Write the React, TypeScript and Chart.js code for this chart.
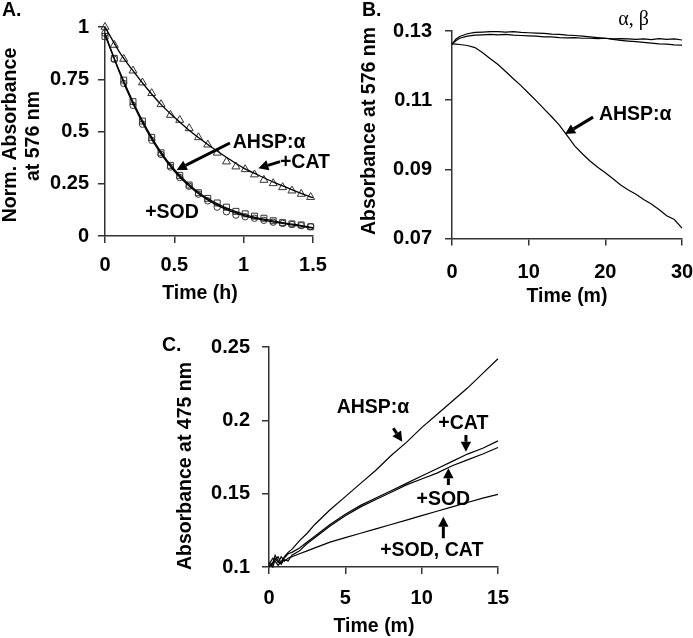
import React, { useEffect, useRef } from 'react';
import { Chart, registerables } from 'chart.js';

Chart.register(...registerables);

const PAGE_W = 693;
const PAGE_H = 638;
const SANS = "'Liberation Sans', Arial, Helvetica, sans-serif";
const SERIF = "'Liberation Serif', 'Times New Roman', serif";
const FS = 19.5;
const TICK_FS = 20;
const BOLD = `bold ${FS}px ${SANS}`;
const AXIS_COLOR = '#333';

// ---------------- Panel A ----------------
const A_TIME = [0, 0.067, 0.135, 0.202, 0.27, 0.337, 0.404, 0.472, 0.539, 0.607, 0.674, 0.741, 0.809, 0.876, 0.944, 1.011, 1.078, 1.146, 1.213, 1.281, 1.348, 1.415, 1.483];
const A_CAT = [1.0, 0.914, 0.847, 0.791, 0.734, 0.683, 0.63, 0.579, 0.555, 0.515, 0.472, 0.437, 0.398, 0.356, 0.332, 0.319, 0.294, 0.268, 0.252, 0.233, 0.217, 0.201, 0.186];
const A_AHSP = [0.955, 0.85, 0.746, 0.643, 0.55, 0.472, 0.398, 0.338, 0.29, 0.244, 0.207, 0.18, 0.158, 0.138, 0.118, 0.106, 0.095, 0.085, 0.073, 0.064, 0.058, 0.053, 0.044];
const A_SOD = [0.97, 0.845, 0.73, 0.625, 0.535, 0.458, 0.39, 0.33, 0.28, 0.238, 0.2, 0.168, 0.138, 0.116, 0.1, 0.092, 0.085, 0.075, 0.066, 0.06, 0.055, 0.05, 0.045];
const A_FIT_TIME = [0, 0.1, 0.2, 0.3, 0.4, 0.5, 0.6, 0.7, 0.8, 0.9, 1.0, 1.1, 1.2, 1.3, 1.4, 1.5];
const A_FIT_CAT = [1.0, 0.885, 0.792, 0.708, 0.632, 0.568, 0.51, 0.458, 0.41, 0.366, 0.325, 0.293, 0.262, 0.235, 0.208, 0.183];
const A_FIT_AHSP = [0.96, 0.795, 0.645, 0.515, 0.405, 0.318, 0.25, 0.196, 0.157, 0.127, 0.104, 0.087, 0.074, 0.062, 0.052, 0.04];
const A_FIT_SOD = [0.97, 0.79, 0.635, 0.505, 0.396, 0.31, 0.243, 0.19, 0.15, 0.12, 0.098, 0.082, 0.069, 0.058, 0.048, 0.038];
const A_X_TICKS = [0, 0.5, 1, 1.5];
const A_Y_TICKS = [0, 0.25, 0.5, 0.75, 1];

// ---------------- Panel B ----------------
const B_TIME = [0, 0.5, 1, 2, 3, 4, 5, 6, 7, 8, 9, 10, 11, 12, 13, 14, 15, 16, 17, 18, 19, 20, 21, 22, 23, 24, 25, 26, 27, 28, 29, 30];
const B_ALPHA = [0.1262, 0.1276, 0.1284, 0.1292, 0.1296, 0.1297, 0.1298, 0.1298, 0.1297, 0.1298, 0.1296, 0.1295, 0.1294, 0.1293, 0.1291, 0.129, 0.1288, 0.1287, 0.1285, 0.1283, 0.1281, 0.1279, 0.1276, 0.1273, 0.1271, 0.1269, 0.1267, 0.1265, 0.1263, 0.1262, 0.126, 0.1259];
const B_BETA = [0.1262, 0.1272, 0.1279, 0.1285, 0.1288, 0.1289, 0.129, 0.1289, 0.129, 0.1288, 0.1287, 0.1286, 0.1285, 0.1283, 0.1283, 0.1281, 0.128, 0.1281, 0.1279, 0.1279, 0.1278, 0.1279, 0.1277, 0.1278, 0.1277, 0.1276, 0.1277, 0.1275, 0.1278, 0.1276, 0.1277, 0.1274];
const B_AHSP = [0.1263, 0.1262, 0.1261, 0.1258, 0.1252, 0.1237, 0.122, 0.1203, 0.1183, 0.1162, 0.1142, 0.112, 0.1098, 0.1075, 0.1052, 0.1028, 0.0998, 0.0968, 0.0945, 0.0924, 0.0906, 0.089, 0.0873, 0.0855, 0.084, 0.0828, 0.0813, 0.08, 0.0784, 0.0766, 0.0755, 0.073];
const B_X_TICKS = [0, 10, 20, 30];
const B_Y_TICKS = [0.07, 0.09, 0.11, 0.13];

// ---------------- Panel C ----------------
const C_TIME = [0, 0.25, 0.4, 0.6, 0.8, 1, 1.25, 1.5, 2, 2.5, 3, 4, 5, 6, 7, 8, 9, 10, 11, 12, 13, 14, 15];
const C_AHSP = [0.101, 0.103, 0.108, 0.104, 0.102, 0.107, 0.11, 0.112, 0.118, 0.123, 0.129, 0.139, 0.148, 0.157, 0.166, 0.176, 0.185, 0.195, 0.204, 0.213, 0.222, 0.232, 0.242];
const C_CAT = [0.102, 0.106, 0.104, 0.101, 0.104, 0.106, 0.109, 0.11, 0.113, 0.117, 0.121, 0.129, 0.136, 0.142, 0.147, 0.152, 0.157, 0.162, 0.167, 0.172, 0.177, 0.181, 0.186];
const C_SOD = [0.103, 0.1, 0.105, 0.107, 0.102, 0.105, 0.104, 0.108, 0.111, 0.116, 0.12, 0.128, 0.135, 0.141, 0.146, 0.151, 0.156, 0.16, 0.164, 0.169, 0.173, 0.177, 0.1815];
const C_SODCAT = [0.1, 0.102, 0.106, 0.103, 0.107, 0.104, 0.106, 0.107, 0.109, 0.111, 0.113, 0.117, 0.12, 0.123, 0.126, 0.129, 0.132, 0.135, 0.138, 0.141, 0.144, 0.147, 0.1495];
const C_X_TICKS = [0, 5, 10, 15];
const C_Y_TICKS = [0.1, 0.15, 0.2, 0.25];

const zip = (xs: number[], ys: number[]) => xs.map((x, i) => ({ x, y: ys[i] }));

const fitLine = (xs: number[], ys: number[]) => ({
  data: zip(xs, ys),
  borderColor: '#000',
  borderWidth: 1.3,
  pointRadius: 0,
  cubicInterpolationMode: 'monotone',
  fill: false,
  clip: false,
});

const markers = (xs: number[], ys: number[], style: string, r: number) => ({
  data: zip(xs, ys),
  showLine: false,
  pointStyle: style,
  pointRadius: r,
  pointBorderColor: '#333',
  pointBackgroundColor: 'rgba(255,255,255,0)',
  pointBorderWidth: 1,
  borderColor: '#333',
  clip: false,
});

const trace = (xs: number[], ys: number[]) => ({
  data: zip(xs, ys),
  borderColor: '#000',
  borderWidth: 1.2,
  pointRadius: 0,
  tension: 0,
  fill: false,
  clip: false,
});

type Note = { text: string; x: number; y: number; font?: string };
type Arrow = { x1: number; y1: number; x2: number; y2: number };
type PText = { text: string; x: number; y: number; rotate?: boolean; align?: CanvasTextAlign; font?: string };

const PANEL_A = {
  area: { l: 105, t: 27, r: 313, b: 236 },
  x: { min: 0, max: 1.5, ticks: A_X_TICKS, pad: 10 },
  y: { min: 0, max: 1, ticks: A_Y_TICKS, pad: 9 },
  datasets: [
    fitLine(A_FIT_TIME, A_FIT_CAT),
    fitLine(A_FIT_TIME, A_FIT_AHSP),
    fitLine(A_FIT_TIME, A_FIT_SOD),
    markers(A_TIME, A_CAT, 'triangle', 4.6),
    markers(A_TIME, A_AHSP, 'rect', 4.2),
    markers(A_TIME, A_SOD, 'circle', 3.2),
  ],
  notes: [
    { text: 'AHSP:α', x: 1.183, y: 0.445 },
    { text: '+CAT', x: 1.442, y: 0.349 },
    { text: '+SOD', x: 0.483, y: 0.11 },
  ] as Note[],
  arrows: [
    { x1: 0.901, y1: 0.445, x2: 0.517, y2: 0.316 },
    { x1: 1.262, y1: 0.356, x2: 1.106, y2: 0.324 },
  ] as Arrow[],
  texts: [
    { text: 'A.', x: 2, y: 11, align: 'left' },
    { text: 'Time (h)', x: 200, y: 294 },
    { text: 'Norm. Absorbance', x: 11, y: 135, rotate: true },
    { text: 'at 576 nm', x: 34, y: 136, rotate: true },
  ] as PText[],
};

const PANEL_B = {
  area: { l: 452, t: 31, r: 682, b: 238.5 },
  x: { min: 0, max: 30, ticks: B_X_TICKS, pad: 15 },
  y: { min: 0.07, max: 0.13, ticks: B_Y_TICKS, pad: 13 },
  datasets: [trace(B_TIME, B_ALPHA), trace(B_TIME, B_BETA), trace(B_TIME, B_AHSP)],
  notes: [
    { text: 'α, β', x: 23.7, y: 0.1332, font: `20px ${SERIF}` },
    { text: 'AHSP:α', x: 23.9, y: 0.1057 },
  ] as Note[],
  arrows: [{ x1: 18.4, y1: 0.1051, x2: 14.74, y2: 0.1002 }] as Arrow[],
  texts: [
    { text: 'B.', x: 362, y: 11, align: 'left' },
    { text: 'Time (m)', x: 567, y: 297 },
    { text: 'Absorbance at 576 nm', x: 370, y: 131, rotate: true },
  ] as PText[],
};

const PANEL_C = {
  area: { l: 269, t: 347, r: 498, b: 567 },
  x: { min: 0, max: 15, ticks: C_X_TICKS, pad: 12 },
  y: { min: 0.1, max: 0.25, ticks: C_Y_TICKS, pad: 12 },
  datasets: [trace(C_TIME, C_AHSP), trace(C_TIME, C_CAT), trace(C_TIME, C_SOD), trace(C_TIME, C_SODCAT)],
  notes: [
    { text: 'AHSP:α', x: 6.81, y: 0.2084 },
    { text: '+CAT', x: 12.73, y: 0.198 },
    { text: '+SOD', x: 11.42, y: 0.1457 },
    { text: '+SOD, CAT', x: 10.66, y: 0.111 },
  ] as Note[],
  arrows: [
    { x1: 8.14, y1: 0.1946, x2: 8.73, y2: 0.1854 },
    { x1: 12.9, y1: 0.19, x2: 12.9, y2: 0.1786 },
    { x1: 11.75, y1: 0.1559, x2: 11.75, y2: 0.1673 },
    { x1: 11.42, y1: 0.1196, x2: 11.42, y2: 0.1343 },
  ] as Arrow[],
  texts: [
    { text: 'C.', x: 162, y: 346, align: 'left' },
    { text: 'Time (m)', x: 374, y: 627 },
    { text: 'Absorbance at 475 nm', x: 186, y: 466, rotate: true },
  ] as PText[],
};

function drawArrow(ctx: CanvasRenderingContext2D, x1: number, y1: number, x2: number, y2: number) {
  const head = 10;
  const hw = 5.2;
  const ang = Math.atan2(y2 - y1, x2 - x1);
  const bx = x2 - head * Math.cos(ang);
  const by = y2 - head * Math.sin(ang);
  ctx.lineWidth = 3;
  ctx.beginPath();
  ctx.moveTo(x1, y1);
  ctx.lineTo(bx, by);
  ctx.stroke();
  ctx.beginPath();
  ctx.moveTo(x2, y2);
  ctx.lineTo(bx + hw * Math.sin(ang), by - hw * Math.cos(ang));
  ctx.lineTo(bx - hw * Math.sin(ang), by + hw * Math.cos(ang));
  ctx.closePath();
  ctx.fill();
}

function overlay(p: any) {
  return {
    id: 'overlay',
    afterDraw(chart: any) {
      const ctx: CanvasRenderingContext2D = chart.ctx;
      const xs = chart.scales.x;
      const ys = chart.scales.y;
      ctx.save();
      ctx.fillStyle = '#000';
      ctx.strokeStyle = '#000';
      ctx.textBaseline = 'middle';
      for (const n of p.notes as Note[]) {
        ctx.font = n.font || BOLD;
        ctx.textAlign = 'center';
        ctx.fillText(n.text, xs.getPixelForValue(n.x), ys.getPixelForValue(n.y));
      }
      for (const a of p.arrows as Arrow[]) {
        drawArrow(ctx, xs.getPixelForValue(a.x1), ys.getPixelForValue(a.y1), xs.getPixelForValue(a.x2), ys.getPixelForValue(a.y2));
      }
      for (const t of p.texts as PText[]) {
        ctx.font = t.font || BOLD;
        ctx.textAlign = t.align || 'center';
        if (t.rotate) {
          ctx.save();
          ctx.translate(t.x, t.y);
          ctx.rotate(-Math.PI / 2);
          ctx.fillText(t.text, 0, 0);
          ctx.restore();
        } else {
          ctx.fillText(t.text, t.x, t.y);
        }
      }
      ctx.restore();
    },
  };
}

const Y_W = 60;
const X_H = 50;

function axis(a: any, position: string, fit: (s: any) => void) {
  return {
    type: 'linear',
    position,
    min: a.min,
    max: a.max,
    afterBuildTicks: (s: any) => {
      s.ticks = a.ticks.map((v: number) => ({ value: v }));
    },
    afterFit: (s: any) => {
      fit(s);
      s.paddingLeft = 0;
      s.paddingRight = 0;
      s.paddingTop = 0;
      s.paddingBottom = 0;
    },
    grid: {
      drawOnChartArea: false,
      drawTicks: true,
      tickLength: 7,
      color: AXIS_COLOR,
      tickColor: AXIS_COLOR,
      lineWidth: 1.5,
    },
    border: { display: true, color: AXIS_COLOR, width: 1.5 },
    ticks: {
      font: { family: SANS, size: TICK_FS, weight: 'bold' },
      color: '#000',
      padding: a.pad,
      autoSkip: false,
      maxRotation: 0,
      minRotation: 0,
      callback: (v: number) => String(v),
    },
    title: { display: false },
  };
}

function buildConfig(p: any): any {
  return {
    type: 'line',
    data: { datasets: p.datasets },
    options: {
      responsive: false,
      maintainAspectRatio: false,
      animation: false,
      devicePixelRatio: 1,
      events: [],
      layout: {
        autoPadding: false,
        padding: {
          left: p.area.l - Y_W,
          top: p.area.t,
          right: PAGE_W - p.area.r,
          bottom: PAGE_H - p.area.b - X_H,
        },
      },
      plugins: {
        legend: { display: false },
        tooltip: { enabled: false },
        title: { display: false },
      },
      scales: {
        x: axis(p.x, 'bottom', (s) => { s.height = X_H; }),
        y: axis(p.y, 'left', (s) => { s.width = Y_W; }),
      },
    },
    plugins: [overlay(p)],
  };
}

function Panel({ cfg }: { cfg: any }) {
  const ref = useRef<HTMLCanvasElement | null>(null);
  useEffect(() => {
    if (!ref.current) return;
    const chart = new Chart(ref.current, buildConfig(cfg));
    return () => chart.destroy();
  }, [cfg]);
  return (
    <canvas
      ref={ref}
      width={PAGE_W}
      height={PAGE_H}
      style={{ position: 'absolute', left: 0, top: 0, width: PAGE_W, height: PAGE_H }}
    />
  );
}

export default function App() {
  return (
    <div
      style={{
        position: 'absolute',
        left: 0,
        top: 0,
        width: PAGE_W,
        height: PAGE_H,
        background: '#fff',
        overflow: 'hidden',
      }}
    >
      <Panel cfg={PANEL_A} />
      <Panel cfg={PANEL_B} />
      <Panel cfg={PANEL_C} />
    </div>
  );
}
